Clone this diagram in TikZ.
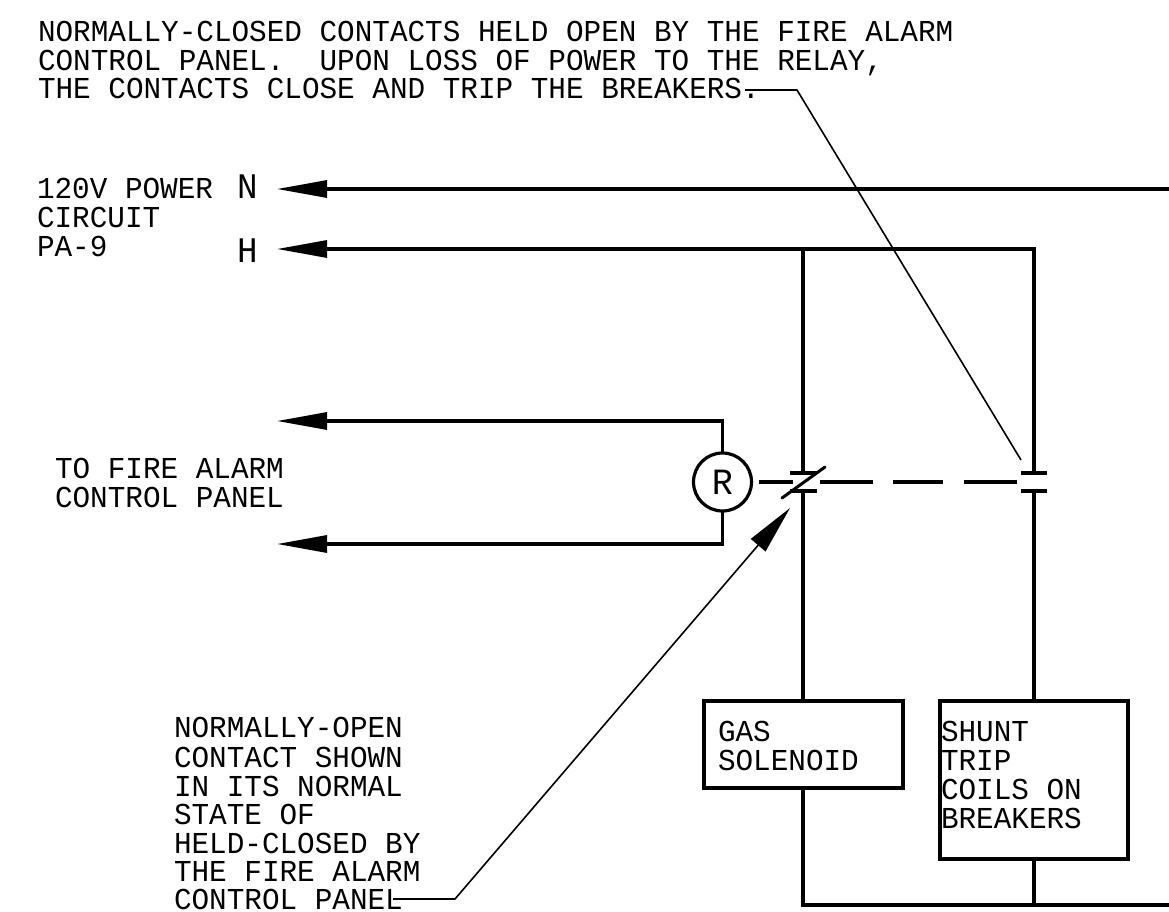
\documentclass[tikz,border=0pt]{standalone}
\usepackage{fontspec}
\setmainfont{Liberation Mono}
\newfontfamily\notefont[FakeStretch=0.965]{Liberation Mono}
\newfontfamily\bigfont[FakeStretch=0.95]{Liberation Mono}
\usetikzlibrary{arrows.meta}
\tikzset{
  wire/.style={line width=3.2pt,line cap=butt,line join=miter},
  thin leader/.style={line width=1.6pt,line join=miter},
  slanted/.style={line width=3pt,line cap=round},
  bighead/.style={-{Triangle[length=50pt,width=17pt]}},
  leaderhead/.style={-{Triangle[length=49pt,width=19pt]}},
  note/.style={inner sep=0pt,outer sep=0pt,anchor=base west,align=left,font=\notefont\fontsize{30.4}{29}\selectfont},
  big/.style={inner sep=0pt,outer sep=0pt,anchor=base west,font=\bigfont\fontsize{36}{36}\selectfont},
  box/.style={draw,line width=3.2pt,inner sep=0pt,outer sep=0pt,anchor=north west},
  relay/.style={draw,circle,line width=3.2pt,minimum size=58pt,inner sep=0pt,outer sep=0pt,font=\bigfont\fontsize{37}{37}\selectfont},
  linktie/.style={line width=3.2pt}
}
\begin{document}
\begin{tikzpicture}[x=1pt,y=-1pt]
\useasboundingbox (0,0) rectangle (1169,912);
% notes
\node[note] (top1) at (38,42) {NORMALLY-CLOSED CONTACTS HELD OPEN BY THE FIRE ALARM};
\node[note] (top2) at (38,70.5) {CONTROL PANEL.\hspace{35.2pt}UPON LOSS OF POWER TO THE RELAY,};
\node[note] (top3) at (38,99) {THE CONTACTS CLOSE AND TRIP THE BREAKERS.};
\node[note] (pw1) at (37,199) {120V POWER};
\node[note] (pw2) at (37,227.5) {CIRCUIT};
\node[note] (pw3) at (37,256) {PA-9};
\node[big] (nlab) at (237,199) {N};
\node[big] (hlab) at (237,262) {H};
\node[note] (fa1) at (55,478) {TO FIRE ALARM};
\node[note] (fa2) at (55,507) {CONTROL PANEL};
\node[note] (no1) at (174,737) {NORMALLY-OPEN};
\node[note] (no2) at (174,767) {CONTACT SHOWN};
\node[note] (no3) at (174,796) {IN ITS NORMAL};
\node[note] (no4) at (174,824) {STATE OF};
\node[note] (no5) at (174,853) {HELD-CLOSED BY};
\node[note] (no6) at (174,881.5) {THE FIRE ALARM};
\node[note] (no7) at (174,909) {CONTROL PANEL};
% devices
\node[box,minimum width=199pt,minimum height=87pt] (gas) at (704,701) {};
\node[note] (gast1) at (718,741) {GAS};
\node[note] (gast2) at (718,770) {SOLENOID};
\node[box,minimum width=188pt,minimum height=158pt] (shunt) at (940,701) {};
\node[note] (sh1) at (941,741) {SHUNT};
\node[note] (sh2) at (941,770) {TRIP};
\node[note] (sh3) at (941,799) {COILS ON};
\node[note] (sh4) at (941,828) {BREAKERS};
\node[relay] (R) at (722.5,482) {R};
% named points
\coordinate (nend) at (277,189);
\coordinate (nstart) at (1169,189);
\coordinate (hend) at (277,249);
\coordinate (htop) at (1034,249);
\coordinate (gtop) at (803,249);
\coordinate (ca) at (803,473);
\coordinate (cb) at (803,491);
\coordinate (da) at (1034,473);
\coordinate (db) at (1034,491);
\coordinate (rtop) at (722.5,421);
\coordinate (rbot) at (722.5,544);
\coordinate (rtopend) at (277,421);
\coordinate (rbotend) at (277,544);
\coordinate (botj) at (803,905);
\coordinate (botk) at (1034,905);
\coordinate (botend) at (1169,905);
% wiring
\draw[wire,bighead] (nstart) -- (nend);
\draw[wire,bighead] (da) -- (htop) -- (hend);
\draw[wire] (gtop) -- (ca);
\draw[wire] (cb) -- (cb |- gas.north);
\draw[wire] (db) -- (db |- shunt.north);
\draw[wire] (gas.south -| botj) -- (botj) -- (botend);
\draw[wire] (shunt.south -| botk) -- (botk);
\draw[wire,bighead] (R.north) -- (rtop) -- (rtopend);
\draw[wire,bighead] (R.south) -- (rbot) -- (rbotend);
% contact plates
\draw[wire] (790,473) -- (817,473);
\draw[wire] (790,491) -- (817,491);
\draw[wire] (1021,473) -- (1047,473);
\draw[wire] (1021,491) -- (1047,491);
\draw[slanted] (782,498) -- (825,467);
% dashed link
\draw[linktie] (759,482) -- (793,482);
\draw[linktie] (820,482) -- (873,482);
\draw[linktie] (893,482) -- (943,482);
\draw[linktie] (964,482) -- (1017,482);
% leaders
\coordinate (l1a) at (745,90);
\coordinate (l1b) at (797,90);
\coordinate (l1c) at (1021,460);
\draw[thin leader] (l1a) -- (l1b) -- (l1c);
\coordinate (l2a) at (393,899);
\coordinate (l2b) at (455,899);
\coordinate (l2c) at (790,508);
\draw[thin leader,leaderhead] (l2a) -- (l2b) -- (l2c);
\end{tikzpicture}
\end{document}
